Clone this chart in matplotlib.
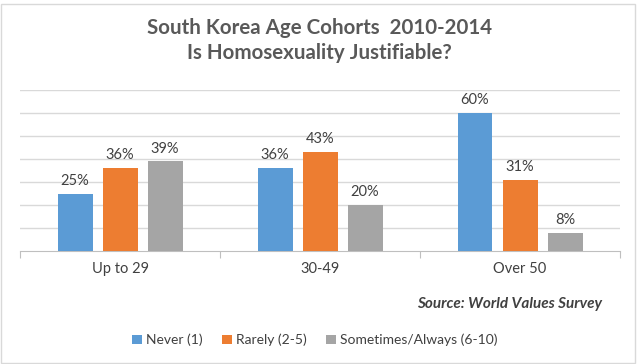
import numpy as np
import matplotlib.pyplot as plt
from matplotlib.patches import Rectangle

# data
cohorts = ['Up to 29', '30-49', 'Over 50']
series_names = ['Never (1)', 'Rarely (2-5)', 'Sometimes/Always (6-10)']
never = [0.25, 0.36, 0.60]
rarely = [0.36, 0.43, 0.31]
sometimes = [0.39, 0.20, 0.08]
colors = ['#5B9BD5', '#ED7D31', '#A5A5A5']

plt.rcParams['font.family'] = ['Lato', 'DejaVu Sans']

fig = plt.figure(figsize=(6.39, 3.64), dpi=100)
ax = fig.add_axes([20/639, 1-251/364, 600/639, 161/364])

x = np.arange(len(cohorts)) + 0.5
w = 0.175
step = 0.225
for i, (vals, name) in enumerate(zip([never, rarely, sometimes], series_names)):
    pos = x + (i - 1) * step
    bars = ax.bar(pos, vals, width=w, color=colors[i], label=name, zorder=3)
    for b, v in zip(bars, vals):
        ax.text(b.get_x() + b.get_width()/2, v + 0.025, '%d%%' % round(v*100),
                ha='center', va='bottom', fontsize=10.5, color='#404040')

ax.set_xlim(0, 3)
ax.set_ylim(0, 0.7)
ax.set_yticks(np.arange(0.1, 0.71, 0.1))
ax.yaxis.grid(True, color='#D9D9D9', linewidth=1, zorder=0)
ax.tick_params(axis='y', left=False, labelleft=False)
ax.set_xticks([0, 1, 2, 3])
ax.set_xticklabels([])
ax.set_xticks(x, minor=True)
ax.set_xticklabels(cohorts, minor=True, fontsize=10.5, color='#404040')
ax.tick_params(axis='x', which='major', length=5, color='#BFBFBF', direction='out')
ax.tick_params(axis='x', which='minor', length=0, pad=8)
for s in ['left', 'right', 'top']:
    ax.spines[s].set_visible(False)
ax.spines['bottom'].set_color('#BFBFBF')

fig.text(0.5, 1-28/364, 'South Korea Age Cohorts  2010-2014', ha='center', va='center',
         fontsize=14.8, fontweight='bold', color='#595959')
fig.text(0.5, 1-53/364, 'Is Homosexuality Justifiable?', ha='center', va='center',
         fontsize=14.8, fontweight='bold', color='#595959')
fig.text(602/639, 1-304/364, 'Source: World Values Survey', ha='right', va='center',
         fontsize=11, fontweight='bold', style='italic', color='#404040')

fig.legend(loc='center', bbox_to_anchor=(315/639, 1-340/364), ncol=3, frameon=False,
           fontsize=10, handlelength=0.7, handleheight=0.7, handletextpad=0.3,
           columnspacing=1.4, labelcolor='#404040')

fig.patches.append(Rectangle((1/639, 1/364), 634/639, 359/364, transform=fig.transFigure,
                             fill=False, edgecolor='#D9D9D9', linewidth=1))

fig.savefig('out.png', dpi=100)
